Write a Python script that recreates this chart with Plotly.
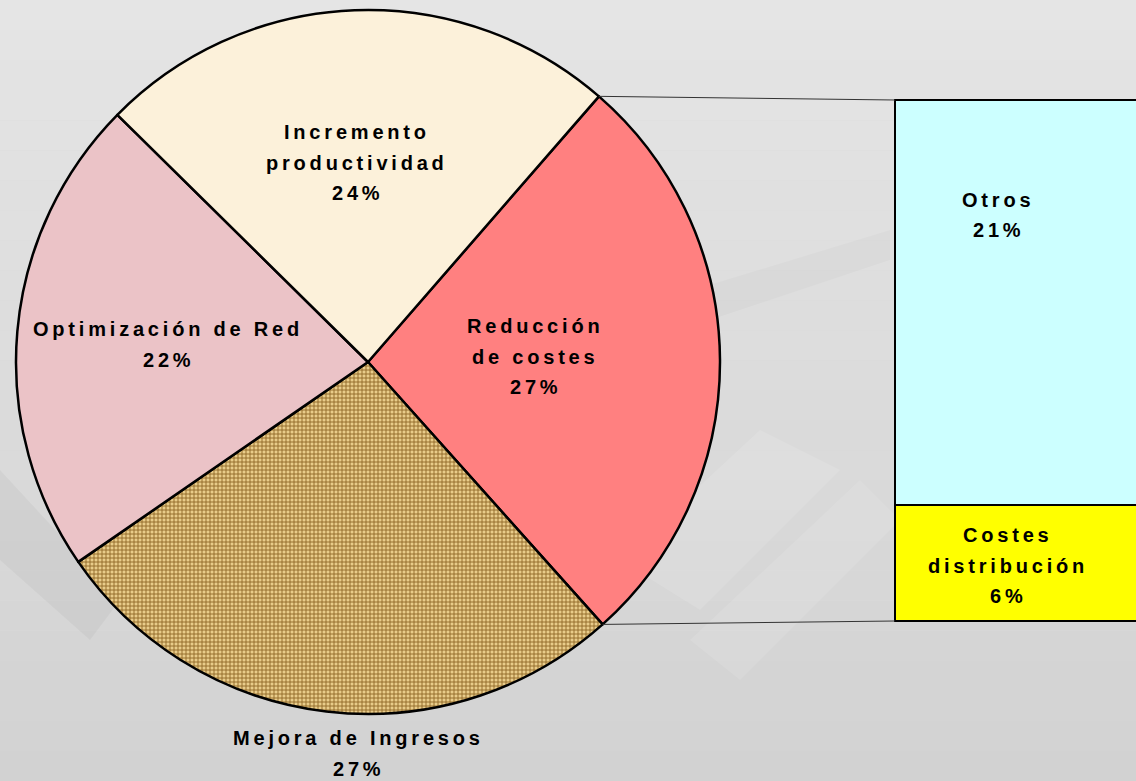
import math
import plotly.graph_objects as go

# ---------------- data ----------------
pie_labels = ["Reducción de costes", "Mejora de Ingresos", "Optimización de Red", "Incremento productividad"]
pie_values = [27, 27, 22, 24]
pie_label_lines = [["Reducción", "de costes"], ["Mejora de Ingresos"], ["Optimización de Red"], ["Incremento", "productividad"]]

bar_labels = ["Costes distribución", "Otros"]
bar_values = [6, 21]
bar_label_lines = [["Costes", "distribución"], ["Otros"]]

# ---------------- style / geometry ----------------
W, H = 1136, 781
CX, CY, R = 368, 362, 352          # pie centre / radius (px)
ROT = 41                            # start angle of first slice
pie_colors = ["#ff8080", "#e9cc8a", "#ebc3c7", "#fcf1da"]
pie_patterns = ["", "+", "", ""]
bar_colors = ["#ffff00", "#ccffff"]

BX0, BY0, BY1 = 895, 100, 621       # bar left, top, bottom (px)
FONT = "Liberation Sans, Arial, sans-serif"
FS = 20
LS = 3.8
LINE = 30.5

pie_label_pos = [(535, 326), (358, 738), (168, 329), (357, 132)]
bar_label_pos = [(1008, 535), (998, 200)]


def fx(x):
    return x / W


def fy(y):
    return 1 - y / H


fig = go.Figure()

# background gradient bands
nb = 26
c_top, c_bot = (0xe5, 0xe5, 0xe5), (0xd2, 0xd2, 0xd2)
for i in range(nb):
    t = i / (nb - 1)
    c = tuple(round(a + (b - a) * t) for a, b in zip(c_top, c_bot))
    fig.add_shape(type="rect", xref="paper", yref="paper", layer="below",
                  x0=0, x1=1, y0=1 - (i + 1) / nb, y1=1 - i / nb,
                  fillcolor="rgb(%d,%d,%d)" % c, line_width=0)
# faint photo-like diagonal bands
for pts, col in [
    ([(620, 560), (760, 430), (840, 470), (700, 610)], "rgba(255,255,255,0.12)"),
    ([(690, 640), (860, 480), (900, 520), (740, 680)], "rgba(255,255,255,0.10)"),
    ([(0, 470), (120, 600), (90, 640), (0, 560)], "rgba(0,0,0,0.035)"),
    ([(660, 300), (890, 230), (890, 260), (680, 330)], "rgba(0,0,0,0.02)"),
]:
    path = "M " + " L ".join("%f,%f" % (fx(x), fy(y)) for x, y in pts) + " Z"
    fig.add_shape(type="path", xref="paper", yref="paper", layer="below",
                  path=path, fillcolor=col, line_width=0)

# pie
fig.add_trace(go.Pie(
    labels=pie_labels, values=pie_values, sort=False, direction="clockwise",
    rotation=ROT, textinfo="none", hoverinfo="label+percent",
    marker=dict(colors=pie_colors, line=dict(color="black", width=2.5),
                pattern=dict(shape=pie_patterns, fgcolor="#8f6526", bgcolor=pie_colors,
                             fgopacity=1, size=4, solidity=0.4)),
    domain=dict(x=[fx(CX - R), fx(CX + R)], y=[fy(CY + R), fy(CY - R)]),
    showlegend=False,
))

# bar of pie
total = sum(bar_values)
pad = 0.3
ppu = (BY1 - BY0) / total
xr = [-0.55, 0.25]
x0px = (16 * BX0 - W) / 15
for lab, val, col in zip(bar_labels, bar_values, bar_colors):
    fig.add_trace(go.Bar(
        x=[0], y=[val], width=[1], name=lab, marker=dict(color=col, line=dict(color="black", width=2.5)),
        xaxis="x2", yaxis="y2", showlegend=False, hoverinfo="name+y",
    ))

fig.update_layout(
    barmode="stack",
    xaxis2=dict(domain=[fx(x0px), 1], range=xr, visible=False, fixedrange=True),
    yaxis2=dict(domain=[fy(BY1 + pad * ppu), fy(BY0 - pad * ppu)], range=[-pad, total + pad],
                visible=False, fixedrange=True, anchor="x2"),
)

# connector lines from the split slice to the bar
a0 = math.radians(ROT)
a1 = math.radians(ROT + 360 * pie_values[0] / sum(pie_values))
for a, by in [(a0, BY0), (a1, BY1)]:
    px, py = CX + R * math.sin(a), CY - R * math.cos(a)
    fig.add_shape(type="line", xref="paper", yref="paper", x0=fx(px), y0=fy(py), x1=fx(BX0), y1=fy(by),
                  line=dict(color="#333333", width=1))


def add_label(lines, pos):
    x, y = pos
    for k, txt in enumerate(lines):
        fig.add_annotation(
            x=fx(x), y=fy(y + k * LINE), xref="paper", yref="paper",
            text='<span style="letter-spacing:%spx">%s</span>' % (LS, txt),
            showarrow=False, xanchor="center", yanchor="middle",
            font=dict(family=FONT, size=FS, color="black", weight="bold"),
        )


for lines, v, pos in zip(pie_label_lines, pie_values, pie_label_pos):
    add_label(lines + ["%d%%" % v], pos)
for lines, v, pos in zip(bar_label_lines, bar_values, bar_label_pos):
    add_label(lines + ["%d%%" % v], pos)

fig.update_layout(
    width=W, height=H, margin=dict(l=0, r=0, t=0, b=0),
    paper_bgcolor="#d9d9d9", plot_bgcolor="rgba(0,0,0,0)",
    xaxis=dict(visible=False), yaxis=dict(visible=False),
)

fig.write_html("out.html", config={"displayModeBar": False},
               post_script="document.body.style.margin='0';document.body.style.overflow='hidden';")
